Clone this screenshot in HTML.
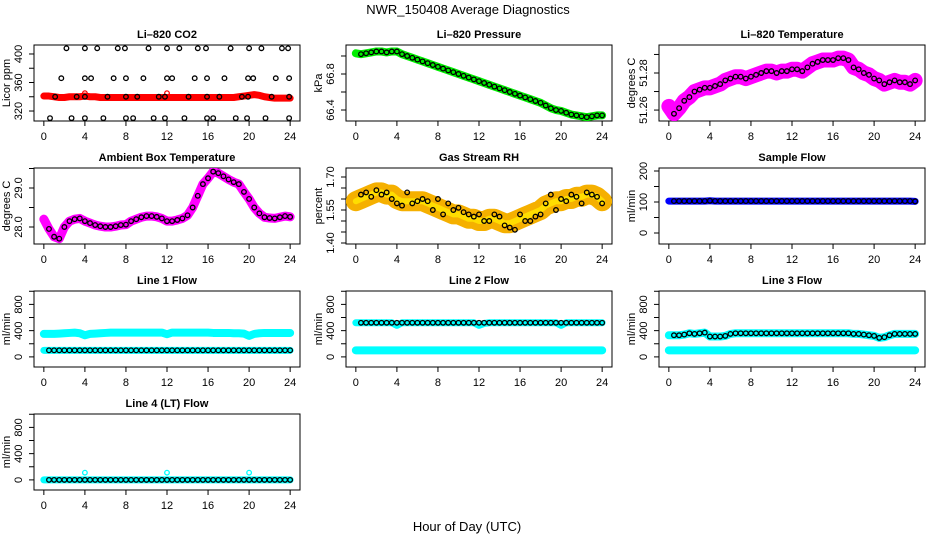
<!DOCTYPE html>
<html><head><meta charset="utf-8">
<style>
html,body{margin:0;padding:0;background:#fff;}
svg{display:block;font-family:"Liberation Sans",Arial,sans-serif;}
.tl{font-size:11px;fill:#000;}
.tt{font-size:11px;font-weight:bold;fill:#000;}
</style></head>
<body>
<svg id="chart" width="936" height="540" viewBox="0 0 936 540" xmlns="http://www.w3.org/2000/svg">
<rect width="936" height="540" fill="#fff"/>
<text x="468" y="14" text-anchor="middle" font-size="13">NWR_150408  Average Diagnostics</text>
<text x="467" y="531" text-anchor="middle" font-size="13">Hour of Day (UTC)</text>
</svg>
<script>
const hours = [0,0.5,1,1.5,2,2.5,3,3.5,4,4.5,5,5.5,6,6.5,7,7.5,8,8.5,9,9.5,10,10.5,11,11.5,12,12.5,13,13.5,14,14.5,15,15.5,16,16.5,17,17.5,18,18.5,19,19.5,20,20.5,21,21.5,22,22.5,23,23.5,24];
const xTicks = [0,4,8,12,16,20,24];

const co2Band = [341,341,340,339,339,340,340,340,341,340,340,339,339,339,339,339,339,339,339,339,339,339,339,339,339,339,339,339,339,339,339,339,339,339,339,339,339,339,340,341,342,343,342,340,339,338,338,338,338];
const co2PtsX = [2.2,4,5.2,7.2,7.9,10.2,12,13.2,15,15.8,18.2,20,21.2,23.2,23.8, 1.7,4,4.6,6.8,8,9.7,12,12.5,14.7,15.9,17.6,19.9,20.4,22.6,23.9, 1.1,3.2,4,6.2,8,9.1,11.2,11.8,14.1,15.9,17.1,19.3,19.9,22.2,23.9, 0.6,2.7,4,5.8,8,8.7,10.7,11.8,13.7,15.9,16.5,18.7,19.8,21.6,23.9];
const co2PtsY = [408,408,408,408,408,408,408,408,408,408,408,408,408,408,408, 366,366,366,366,366,366,366,366,366,366,366,366,366,366,366, 340,340,340,340,340,340,340,340,340,340,340,340,340,340,340, 310,310,310,310,310,310,310,310,310,310,310,310,310,310,310];

const pressBand = [67.03,67.02,67.03,67.04,67.05,67.05,67.04,67.05,67.05,67.02,67.0,66.98,66.96,66.94,66.92,66.90,66.88,66.86,66.84,66.82,66.80,66.78,66.76,66.74,66.72,66.70,66.68,66.66,66.64,66.62,66.60,66.58,66.56,66.54,66.52,66.50,66.48,66.45,66.42,66.40,66.39,66.37,66.35,66.34,66.33,66.32,66.33,66.34,66.34];

const tempBand = [51.262,51.258,51.261,51.265,51.267,51.270,51.271,51.272,51.272,51.273,51.274,51.276,51.277,51.278,51.278,51.277,51.278,51.279,51.280,51.281,51.281,51.280,51.281,51.281,51.282,51.282,51.281,51.283,51.285,51.286,51.287,51.287,51.287,51.288,51.288,51.287,51.283,51.282,51.280,51.279,51.277,51.276,51.274,51.275,51.276,51.275,51.275,51.274,51.276];

const ambBand = [28.2,27.95,27.75,27.7,28.0,28.15,28.2,28.22,28.15,28.1,28.05,28.02,28.0,28.0,28.02,28.05,28.06,28.15,28.2,28.25,28.28,28.28,28.26,28.22,28.15,28.15,28.18,28.22,28.3,28.5,28.8,29.1,29.25,29.42,29.38,29.3,29.22,29.15,29.1,28.9,28.72,28.5,28.35,28.25,28.23,28.22,28.25,28.28,28.26];

const rhBand = [1.59,1.60,1.61,1.62,1.63,1.63,1.62,1.62,1.60,1.59,1.59,1.59,1.59,1.59,1.58,1.57,1.56,1.55,1.54,1.53,1.53,1.52,1.51,1.51,1.50,1.50,1.51,1.51,1.50,1.49,1.49,1.50,1.51,1.52,1.53,1.54,1.55,1.57,1.58,1.59,1.59,1.60,1.60,1.61,1.61,1.62,1.62,1.61,1.59];
const rhPts = [1.60,1.62,1.63,1.61,1.64,1.62,1.63,1.60,1.58,1.57,1.63,1.58,1.59,1.60,1.59,1.55,1.60,1.53,1.58,1.55,1.56,1.54,1.53,1.52,1.53,1.50,1.50,1.53,1.52,1.48,1.47,1.46,1.53,1.50,1.50,1.52,1.53,1.58,1.62,1.55,1.60,1.59,1.62,1.61,1.58,1.63,1.62,1.61,1.58];

const sampleBand = [103,103,103,103,103,103,103,103,104,103,103,103,103,103,103,103,103,103,103,103,103,103,103,103,103,103,103,103,103,103,103,103,103,103,103,103,103,103,103,103,103,103,103,103,103,103,103,103,102];

const line1Upper = [350,350,350,355,360,365,370,360,330,350,355,360,365,370,370,370,370,370,370,370,370,370,370,370,345,370,370,370,370,370,370,370,370,365,365,365,365,360,360,355,320,350,360,365,365,365,365,365,365];
const line1Lower = [100,100,100,100,100,100,100,100,100,100,100,100,100,100,100,100,100,100,100,100,100,100,100,100,100,100,100,100,100,100,100,100,100,100,100,100,100,100,100,100,100,100,100,100,100,100,100,100,100];
const line1Pts = [100,100,100,100,100,100,100,100,100,100,100,100,100,100,100,100,100,100,100,100,100,100,100,100,100,100,100,100,100,100,100,100,100,100,100,100,100,100,100,100,100,100,100,100,100,100,100,100,100];

const line2Upper = [520,520,520,520,520,520,520,520,480,520,520,520,520,520,520,520,520,520,520,520,520,520,520,520,480,510,520,520,520,520,520,520,520,520,520,520,520,520,520,520,480,520,520,520,520,520,520,520,520];
const line2Lower = [100,100,100,100,100,100,100,100,100,100,100,100,100,100,100,100,100,100,100,100,100,100,100,100,100,100,100,100,100,100,100,100,100,100,100,100,100,100,100,100,100,100,100,100,100,100,100,100,100];
const line2Pts = [520,520,520,520,520,520,520,520,520,520,520,520,520,520,520,520,520,520,520,520,520,520,520,520,520,520,520,520,520,520,520,520,520,520,520,520,520,520,520,520,520,520,520,520,520,520,520,520,520];

const line3Upper = [330,330,330,340,360,350,360,370,310,310,310,320,350,360,360,360,360,360,360,360,360,360,360,360,360,360,360,360,360,360,360,360,360,360,360,360,350,350,340,330,320,290,300,330,350,350,350,350,350];
const line3Lower = [100,100,100,100,100,100,100,100,100,100,100,100,100,100,100,100,100,100,100,100,100,100,100,100,100,100,100,100,100,100,100,100,100,100,100,100,100,100,100,100,100,100,100,100,100,100,100,100,100];

const line4Band = [0,0,0,0,0,0,0,0,0,0,0,0,0,0,0,0,0,0,0,0,0,0,0,0,0,0,0,0,0,0,0,0,0,0,0,0,0,0,0,0,0,0,0,0,0,0,0,0,0];
const line4OutX = [4,12,20];
const line4OutY = [110,110,110];

const svg = document.getElementById('chart');
const NS = 'http://www.w3.org/2000/svg';
function mk(tag, attrs, parent){const e=document.createElementNS(NS,tag);for(const k in attrs)e.setAttribute(k,attrs[k]);(parent||svg).appendChild(e);return e;}

function panel(key, title, ylab, left, top, ylim, yTicks, yLabels){
  const W=266,H=76;
  const g=mk('g',{});
  
  
  const xs=h=>left+(h+0.96)/25.92*W;
  const ys=v=>top+H-(v-ylim[0])/(ylim[1]-ylim[0])*H;
  const t=mk('text',{x:left+W/2,y:top-7,'text-anchor':'middle',class:'tt'},g);
  t.textContent=title;
  
  
  const box=mk('rect',{x:left,y:top,width:W,height:H,fill:'none',stroke:'#000','stroke-width':1},g);
  
  
  xTicks.forEach(h=>{
    mk('line',{x1:xs(h),x2:xs(h),y1:top+H,y2:top+H+5,stroke:'#000'},g);
    const l=mk('text',{x:xs(h),y:top+H+19,'text-anchor':'middle',class:'tl'},g);
    l.textContent=h;
    
    
  });
  yTicks.forEach((v,i)=>{
    const y=ys(v);
    mk('line',{x1:left-5,x2:left,y1:y,y2:y,stroke:'#000'},g);
    if(yLabels[i]){
      const l=mk('text',{x:left-12,y:y,'text-anchor':'middle',class:'tl',transform:`rotate(-90 ${left-12} ${y})`},g);
      l.textContent=yLabels[i];
      
      
    }
  });
  const yl=mk('text',{x:left-24,y:top+H/2,'text-anchor':'middle',class:'tl',transform:`rotate(-90 ${left-24} ${top+H/2})`},g);
  yl.textContent=ylab;
  
  
  const clip=mk('clipPath',{id:'c-'+key},g);
  mk('rect',{x:left,y:top,width:W,height:H},clip);
  const pg=mk('g',{'clip-path':`url(#c-${key})`},g);
  return {xs,ys,pg};
}
function band(p, xsArr, vals, color, w, name){
  const pts=vals.map((v,i)=>p.xs(xsArr[i])+','+p.ys(v)).join(' ');
  const pl=mk('polyline',{points:pts,fill:'none',stroke:color,'stroke-width':w,'stroke-linejoin':'round','stroke-linecap':'round'},p.pg);
  
  
}
function pts(p, xsArr, vals, color, name, r, skipStart){
  vals.forEach((v,i)=>{
    if(v===null)return;
    if(skipStart && xsArr[i]<0.3)return;
    const c=mk('circle',{cx:p.xs(xsArr[i]),cy:p.ys(v),r:r||2.3,fill:'none',stroke:color,'stroke-width':1.3},p.pg);
    
    
  });
}
const L=[34,346,659], T=[45,168,291,414];
const flowLim=[-154,1004], flowT=[0,200,400,600,800,1000], flowL=['0','','400','','800',''];

let p=panel('co2','Li–820 CO2','Licor ppm',L[0],T[0],[306,412.6],[320,340,360,380,400],['320','','360','','400']);
band(p,hours,co2Band,'#ff0000',7,'co2-band');
pts(p,[4,12],[345,345],'#ff0000','co2-red-point');
pts(p,co2PtsX,co2PtsY,'#000','co2-point');

p=panel('pressure','Li–820 Pressure','kPa',L[1],T[0],[66.278,67.122],[66.4,66.6,66.8,67.0],['66.4','','66.8','']);
band(p,hours,pressBand,'#00ee00',8,'pressure-band');
pts(p,hours,pressBand,'#000','pressure-point',2.3,true);

p=panel('temperature','Li–820 Temperature','degrees C',L[2],T[0],[51.2541,51.2951],[51.26,51.27,51.28,51.29],['51.26','','51.28','']);
band(p,hours,tempBand,'#ff00ff',15,'temperature-band');
pts(p,hours,tempBand,'#000','temperature-point',2.3,true);

p=panel('ambient','Ambient Box Temperature','degrees C',L[0],T[1],[27.564,29.513],[28.0,28.5,29.0,29.5],['28.0','','29.0','']);
band(p,hours,ambBand,'#ff00ff',9,'ambient-band');
pts(p,hours,ambBand,'#000','ambient-point',2.3,true);

p=panel('rh','Gas Stream RH','percent',L[1],T[1],[1.3955,1.7409],[1.40,1.45,1.50,1.55,1.60,1.65,1.70],['1.40','','','1.55','','','1.70']);
band(p,hours,rhBand,'#f5b000',20,'rh-band');
band(p,hours,rhBand,'#ffdd00',6,'rh-band-inner');
pts(p,hours,rhPts,'#000','rh-point',2.3,true);

p=panel('sample','Sample Flow','ml/min',L[2],T[1],[-35.5,209.7],[0,50,100,150,200],['0','','100','','200']);
band(p,hours,sampleBand,'#0000ff',7,'sample-band');
pts(p,hours,sampleBand,'#000','sample-point',2.3,true);

p=panel('line1','Line 1 Flow','ml/min',L[0],T[2],flowLim,flowT,flowL);
band(p,hours,line1Upper,'#00ffff',8,'line1-upper-band');
band(p,hours,line1Lower,'#00ffff',7,'line1-lower-band');
pts(p,hours,line1Pts,'#000','line1-point',2.3,true);

p=panel('line2','Line 2 Flow','ml/min',L[1],T[2],flowLim,flowT,flowL);
band(p,hours,line2Upper,'#00ffff',7,'line2-upper-band');
band(p,hours,line2Lower,'#00ffff',8,'line2-lower-band');
pts(p,hours,line2Pts,'#000','line2-point',2.3,true);

p=panel('line3','Line 3 Flow','ml/min',L[2],T[2],flowLim,flowT,flowL);
band(p,hours,line3Upper,'#00ffff',8,'line3-upper-band');
band(p,hours,line3Lower,'#00ffff',8,'line3-lower-band');
pts(p,hours,line3Upper,'#000','line3-point',2.3,true);

p=panel('line4','Line 4 (LT) Flow','ml/min',L[0],T[3],flowLim,flowT,flowL);
band(p,hours,line4Band,'#00ffff',7,'line4-band');
pts(p,line4OutX,line4OutY,'#00ffff','line4-outlier');
pts(p,hours,line4Band,'#000','line4-point',2.3,true);
</script>
</body></html>
